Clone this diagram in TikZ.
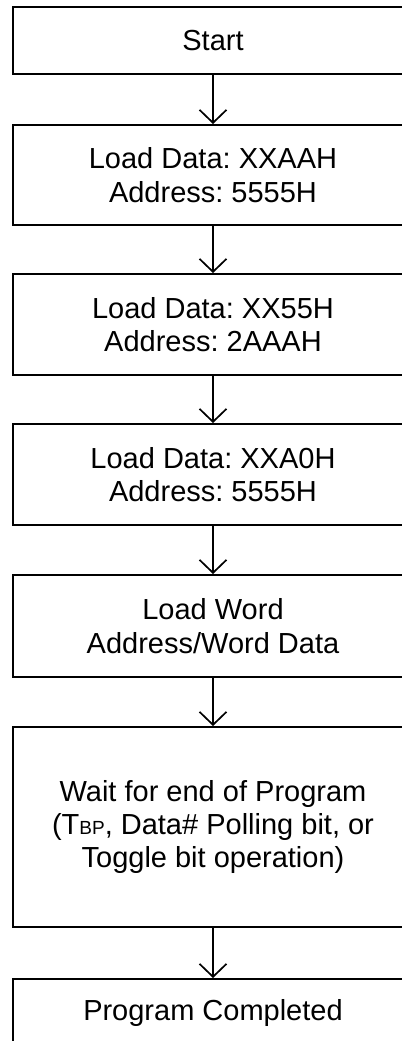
\documentclass[tikz,border=0pt]{standalone}
\usepackage{fontspec}
\setmainfont{Liberation Sans}
\usepackage{tikz}
\usetikzlibrary{positioning,arrows.meta}
\frenchspacing

\begin{document}
\begin{tikzpicture}[
    x=0.5pt, y=-0.5pt,
    every node/.style={font=\fontsize{14.5pt}{16.7pt}\selectfont},
    box/.style={rectangle,draw,line width=1pt,minimum width=200pt,inner sep=0pt,align=center},
    flow/.style={line width=0.85pt,-{Straight Barb[length=6.5pt,width=13.5pt,line width=0.85pt]}}
]
\useasboundingbox (0,0) rectangle (402,1041);
\clip (0,0) rectangle (402,1041);

% Steps (absolute positions)
\node[box,minimum height=33.5pt] (start)  at (213,40.5) {Start};
\node[box,minimum height=50pt]   (cmd1)   at (213,175)  {Load Data: XXAAH\\Address: 5555H};
\node[box,minimum height=50.5pt] (cmd2)   at (213,324.5) {Load Data: XX55H\\Address: 2AAAH};
\node[box,minimum height=50.5pt] (cmd3)   at (213,474.5) {Load Data: XXA0H\\Address: 5555H};
\node[box,minimum height=51pt]   (word)   at (213,626)  {Load Word\\Address/Word Data};
\node[box,minimum height=100pt]  (wait)   at (213,827)  {Wait for end of Program\\(T{\fontsize{9.5pt}{9.5pt}\selectfont BP}, Data\# Polling bit, or\\Toggle bit operation)};
\node[box,minimum height=33.5pt] (done)   at (213,1012.5) {Program Completed};

% Flow
\draw[flow] (start) -- (cmd1);
\draw[flow] (cmd1) -- (cmd2);
\draw[flow] (cmd2) -- (cmd3);
\draw[flow] (cmd3) -- (word);
\draw[flow] (word) -- (wait);
\draw[flow] (wait) -- (done);

\end{tikzpicture}
\end{document}
